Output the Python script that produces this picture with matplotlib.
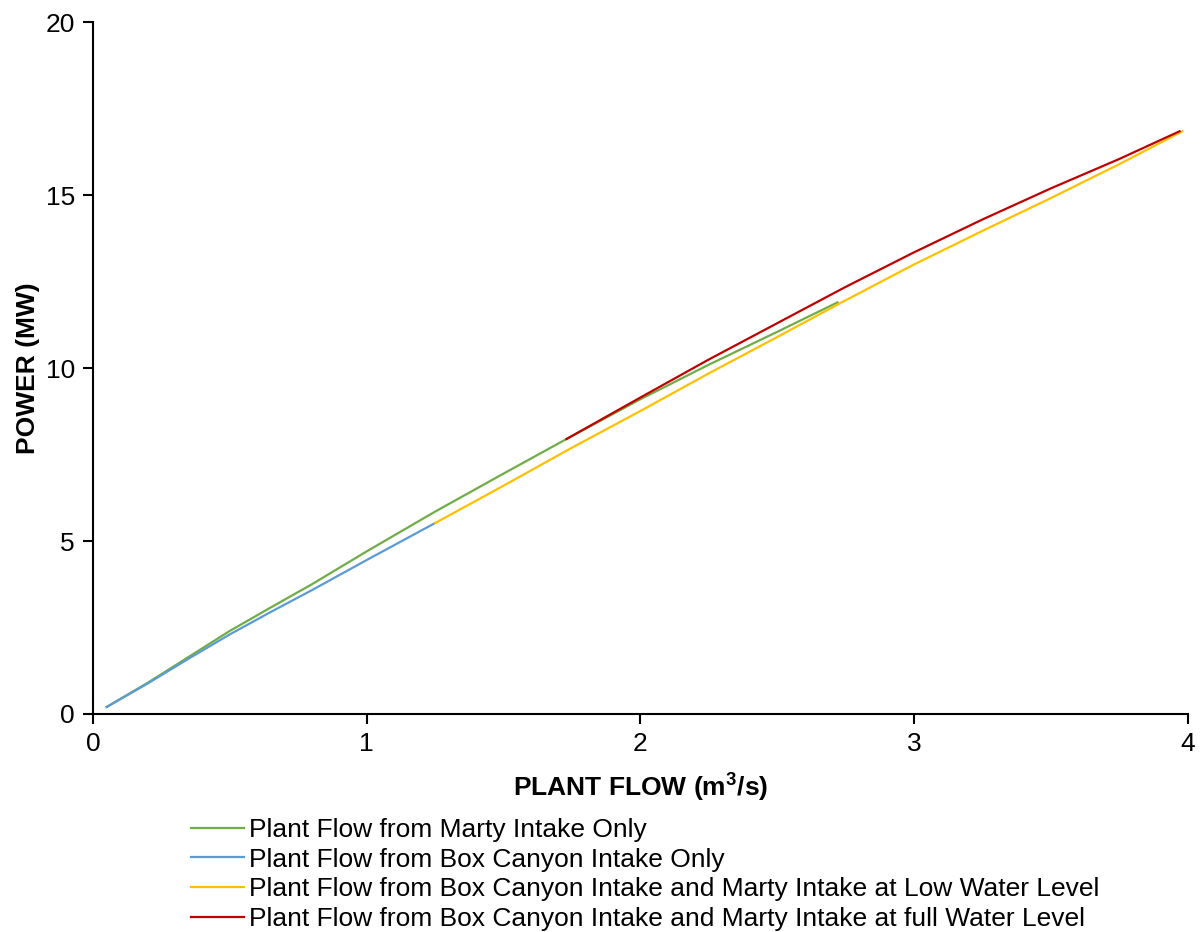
import matplotlib.pyplot as plt

plt.rcParams['font.family'] = ['Liberation Sans', 'DejaVu Sans']
plt.rcParams['mathtext.fontset'] = 'custom'
plt.rcParams['mathtext.rm'] = 'Liberation Sans:bold'

# Plant Flow from Marty Intake Only
marty_flow = [0.05, 0.2, 0.35, 0.5, 0.65, 0.8, 1.0, 1.25, 1.5, 1.73, 2.0, 2.25, 2.5, 2.72]
marty_power = [0.2, 0.9, 1.65, 2.4, 3.08, 3.75, 4.7, 5.85, 6.95, 7.95, 9.1, 10.1, 11.05, 11.9]

# Plant Flow from Box Canyon Intake Only
box_flow = [0.05, 0.2, 0.35, 0.5, 0.65, 0.8, 1.0, 1.25]
box_power = [0.2, 0.88, 1.6, 2.3, 2.95, 3.58, 4.45, 5.52]

# Box Canyon + Marty at low water level
low_flow = [1.25, 1.5, 1.75, 2.0, 2.25, 2.5, 2.73, 3.0, 3.25, 3.5, 3.75, 3.98]
low_power = [5.52, 6.6, 7.7, 8.76, 9.85, 10.9, 11.88, 13.0, 13.97, 14.92, 15.9, 16.85]

# Box Canyon + Marty at full water level
full_flow = [1.73, 2.0, 2.25, 2.5, 2.75, 3.0, 3.25, 3.5, 3.75, 3.97]
full_power = [7.95, 9.15, 10.25, 11.3, 12.35, 13.35, 14.3, 15.2, 16.05, 16.85]

labels = ["Plant Flow from Marty Intake Only",
          "Plant Flow from Box Canyon Intake Only",
          "Plant Flow from Box Canyon Intake and Marty Intake at Low Water Level",
          "Plant Flow from Box Canyon Intake and Marty Intake at full Water Level"]
colors = ['#70AD47', '#5B9BD5', '#FFC000', '#C00000']

fig = plt.figure(figsize=(12.01, 9.32), dpi=100)
ax = fig.add_axes([0.0774, 0.234, 0.9116, 0.742])

ax.plot(marty_flow, marty_power, color=colors[0], lw=1.6, label=labels[0])
ax.plot(box_flow, box_power, color=colors[1], lw=1.6, label=labels[1])
ax.plot(low_flow, low_power, color=colors[2], lw=1.6, label=labels[2])
ax.plot(full_flow, full_power, color=colors[3], lw=1.6, label=labels[3])

ax.set_xlim(0, 4)
ax.set_ylim(0, 20)
ax.set_xticks([0, 1, 2, 3, 4])
ax.set_yticks([0, 5, 10, 15, 20])
ax.tick_params(direction='out', length=7, width=1.5, labelsize=19, pad=6)
for s in ['top', 'right']:
    ax.spines[s].set_visible(False)
for s in ['left', 'bottom']:
    ax.spines[s].set_linewidth(1.5)

ax.set_xlabel("PLANT FLOW (m$^3$/s)", fontsize=19, fontweight='bold', labelpad=10)
ax.set_ylabel("POWER (MW)", fontsize=19, fontweight='bold', labelpad=4)

fig.legend(loc='upper left', bbox_to_anchor=(0.159, 0.1225), bbox_transform=fig.transFigure,
           frameon=False, fontsize=19, handlelength=2.0, handletextpad=0.2,
           labelspacing=0.22, borderaxespad=0, borderpad=0)

fig.savefig('out.png', dpi=100)
